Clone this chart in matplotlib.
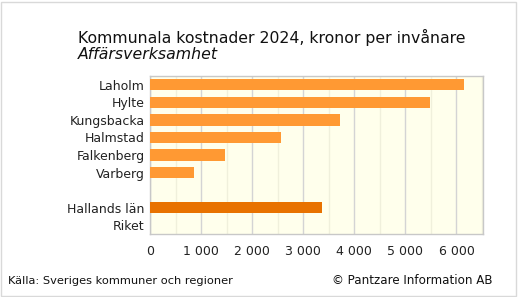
import matplotlib
matplotlib.use("Agg")
import matplotlib.pyplot as plt
from matplotlib.patches import Rectangle
from matplotlib.ticker import MultipleLocator, FuncFormatter

categories = ["Laholm", "Hylte", "Kungsbacka", "Halmstad", "Falkenberg", "Varberg", "", "Hallands län", "Riket"]
values = [6143, 5477, 3713, 2557, 1460, 852, None, 3360, None]
colors = ["#FF9933"] * 6 + ["#FF9933", "#E87200", "#FF9933"]

W, H = 518, 297
fig = plt.figure(figsize=(W / 100, H / 100), dpi=100)
fig.patch.set_facecolor("white")
fig.patches.append(Rectangle((1 / W, 1 / H), 1 - 3 / W, 1 - 3 / H, transform=fig.transFigure,
                             fill=False, edgecolor="#D9D9D9", linewidth=1))

ax = fig.add_axes([150 / W, 1 - 234 / H, (483 - 150) / W, (234 - 76) / H])
ax.set_facecolor("#FFFFEC")

ypos = list(range(len(categories)))
for y, v, c in zip(ypos, values, colors):
    if v is not None:
        ax.barh(y, v, height=0.65, color=c, zorder=3)

ax.set_xlim(0, 6520)
ax.set_ylim(len(categories) - 0.5, -0.5)
ax.set_yticks(ypos)
ax.set_yticklabels(categories, fontsize=9, color="#222222")
ax.xaxis.set_major_locator(MultipleLocator(1000))
ax.xaxis.set_minor_locator(MultipleLocator(500))
ax.xaxis.set_major_formatter(FuncFormatter(lambda x, p: f"{int(x):,}".replace(",", " ")))
ax.tick_params(axis="x", labelsize=9, colors="#222222", length=0, pad=8)
ax.tick_params(axis="x", which="minor", length=0)
ax.tick_params(axis="y", length=0, pad=4)
ax.grid(axis="x", which="major", color="#D4D4D4", linewidth=1, zorder=1)
ax.grid(axis="x", which="minor", color="#F0F0DC", linewidth=1, zorder=1)
for s in ax.spines.values():
    s.set_color("#C8C8C8")
    s.set_linewidth(1)

fig.text(78 / W, 1 - 37 / H, "Kommunala kostnader 2024, kronor per invånare", fontsize=11.3,
         color="#111111", va="center", ha="left")
fig.text(78 / W, 1 - 55 / H, "Affärsverksamhet", fontsize=11.3, style="italic",
         color="#111111", va="center", ha="left")
fig.text(8 / W, 1 - 281 / H, "Källa: Sveriges kommuner och regioner", fontsize=8.2,
         color="#111111", va="center", ha="left")
fig.text(493 / W, 1 - 281 / H, "© Pantzare Information AB", fontsize=8.6,
         color="#111111", va="center", ha="right")

fig.savefig("out.png", dpi=100)
